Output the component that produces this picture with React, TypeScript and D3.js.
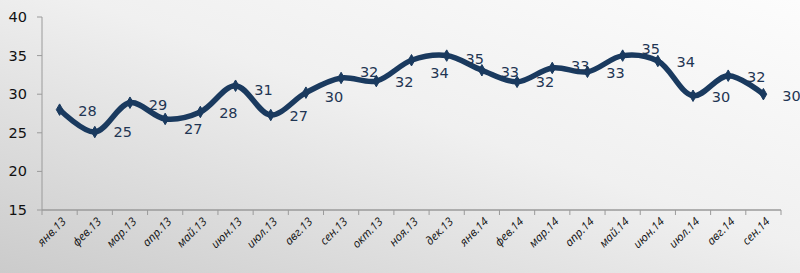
import React from "react";
import * as d3 from "d3";

const categories = [
  "янв.13", "фев.13", "мар.13", "апр.13", "май.13", "июн.13", "июл.13",
  "авг.13", "сен.13", "окт.13", "ноя.13", "дек.13", "янв.14", "фев.14",
  "мар.14", "апр.14", "май.14", "июн.14", "июл.14", "авг.14", "сен.14",
];
const values = [
  28.0, 25.1, 28.9, 26.8, 27.7, 31.1, 27.3, 30.2, 32.1, 31.7, 34.4,
  35.0, 33.1, 31.6, 33.4, 32.9, 35.0, 34.3, 29.8, 32.4, 30.0,
];
const yTicks = [15, 20, 25, 30, 35, 40];

// small vertical nudges of data labels (style, not data)
const labelNudge = [1, 0, 2, 10, 1, 4, 1, 4, -6, 1, 13, 3, 2, 0, -2, 1, -7, 1, 1, 1, 2];

const W = 800;
const H = 273;

export default function App() {
  const left = 42;
  const right = 781;
  const top = 17;
  const bottom = 210;

  const x = d3.scaleBand<string>().domain(categories).range([left, right]).padding(0);
  const y = d3.scaleLinear().domain([15, 40]).range([bottom, top]);
  const cx = (i: number) => (x(categories[i]) as number) + x.bandwidth() / 2;

  const line = d3
    .line<number>()
    .x((_, i) => cx(i))
    .y((d) => y(d))
    .curve(d3.curveCatmullRom.alpha(0.5));

  const diamond = d3.symbol().type(d3.symbolDiamond).size(38)();
  const navy = "#1a3a5f";
  const fmt = d3.format(".0f");

  const tickPositions = d3.range(categories.length + 1).map((i) => left + i * x.bandwidth());

  return (
    <svg
      width={W}
      height={H}
      style={{ position: "absolute", left: 0, top: 0, display: "block" }}
      fontFamily="'Open Sans', 'Noto Sans', sans-serif"
    >
      <defs>
        <linearGradient id="bg" x1="0" y1="1" x2="1" y2="0">
          <stop offset="0" stopColor="#cbcbcb" />
          <stop offset="0.55" stopColor="#f0f0f0" />
          <stop offset="1" stopColor="#fcfcfc" />
        </linearGradient>
      </defs>
      <rect x={0} y={0} width={W} height={H} fill="url(#bg)" />

      {/* Y axis */}
      <line x1={left} x2={left} y1={top} y2={bottom} stroke="#9a9a9a" strokeWidth={1} />
      {yTicks.map((t) => (
        <g key={t}>
          <line x1={left - 5} x2={left} y1={y(t)} y2={y(t)} stroke="#9a9a9a" />
          <text
            x={27}
            y={y(t)}
            textAnchor="end"
            dominantBaseline="central"
            fontSize={14.5}
            fill="#111"
            fontFamily="'DejaVu Sans', sans-serif"
          >
            {t}
          </text>
        </g>
      ))}

      {/* X axis */}
      <line x1={left} x2={right} y1={bottom} y2={bottom} stroke="#9a9a9a" strokeWidth={1.5} />
      {tickPositions.map((p, i) => (
        <line key={i} x1={p} x2={p} y1={bottom} y2={bottom + 5} stroke="#9a9a9a" />
      ))}
      {categories.map((c, i) => (
        <text
          key={c}
          transform={`translate(${cx(i) + 4},${bottom + 9}) rotate(-45)`}
          textAnchor="end"
          dominantBaseline="central"
          fontSize={11.5}
          fontStyle="italic"
          fill="#111"
        >
          {c}
        </text>
      ))}

      {/* Line */}
      <path d={line(values) || ""} fill="none" stroke={navy} strokeWidth={5.5} strokeLinejoin="round" />
      {values.map((v, i) => (
        <path key={i} d={diamond || ""} transform={`translate(${cx(i)},${y(v)})`} fill={navy} stroke={navy} strokeWidth={1} />
      ))}

      {/* Data labels */}
      {values.map((v, i) => (
        <text
          key={i}
          x={cx(i) + 28}
          y={y(v) + labelNudge[i]}
          textAnchor="middle"
          dominantBaseline="central"
          fontSize={14.5}
          fill="#1f3553"
          fontFamily="'DejaVu Sans', sans-serif"
        >
          {fmt(v)}
        </text>
      ))}
    </svg>
  );
}
